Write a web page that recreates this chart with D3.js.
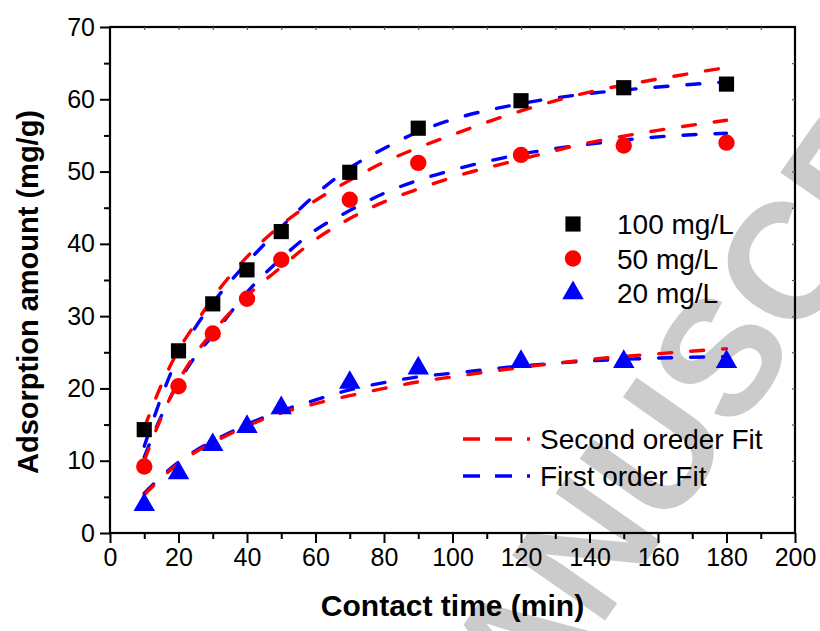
<!DOCTYPE html>
<meta charset="utf-8">
<style>
body { margin: 0; background: #fff; }
svg { font-family: "Liberation Sans", Arial, sans-serif; }
</style>
<body>
<script src="https://d3js.org/d3.v7.min.js"></script>
<script>
// measured points
var times = [10, 20, 30, 40, 50, 70, 90, 120, 150, 180]
var q100 = [14.3, 25.2, 31.7, 36.4, 41.7, 49.9, 56.0, 59.8, 61.6, 62.1]
var q50 = [9.2, 20.3, 27.6, 32.4, 37.8, 46.1, 51.2, 52.3, 53.6, 54.0]
var q20 = [3.9, 8.3, 12.2, 14.7, 17.3, 20.8, 22.8, 23.7, 23.7, 23.7]

// fitted curves
var fitT = [10, 15, 20, 25, 30, 40, 50, 60, 70, 80, 90, 100, 120, 140, 160, 180]
var second100 = [14.5, 20.5, 25.3, 29.0, 32.5, 38.2, 42.6, 46.0, 48.8, 51.3, 53.3, 55.1, 58.4, 61.0, 62.8, 64.4]
var first100 = [12.0, 18.8, 24.5, 28.5, 31.8, 37.4, 42.3, 46.8, 50.5, 53.2, 55.5, 57.2, 59.4, 60.8, 61.7, 62.4]
var second50 = [10.0, 16.0, 21.0, 24.8, 27.8, 32.8, 36.8, 40.6, 43.5, 45.8, 47.6, 49.2, 51.7, 54.0, 55.7, 57.1]
var first50 = [10.5, 16.2, 20.8, 24.5, 27.3, 33.3, 38.0, 41.9, 44.6, 47.0, 48.8, 50.2, 52.4, 53.8, 54.8, 55.3]
var second20 = [5.3, 7.6, 9.6, 11.2, 12.5, 14.8, 16.6, 17.9, 19.0, 20.0, 20.9, 21.6, 22.9, 24.0, 24.8, 25.5]
var first20 = [5.5, 7.8, 9.8, 11.4, 12.7, 15.0, 16.9, 18.4, 19.8, 20.8, 21.6, 22.1, 23.1, 23.8, 24.2, 24.4]

var xTicks = [0, 20, 40, 60, 80, 100, 120, 140, 160, 180, 200]
var yTicks = [0, 10, 20, 30, 40, 50, 60, 70]
var seriesNames = ['100 mg/L', '50 mg/L', '20 mg/L']
var fitNames = ['Second oreder Fit', 'First order Fit']

var W = 820, H = 631
var m = { left: 110, right: 795, top: 27, bottom: 533 }

var svg = d3.select('body').append('svg')
    .attr('width', W)
    .attr('height', H)

var x = d3.scaleLinear().domain([0, 200]).range([m.left, m.right])
var y = d3.scaleLinear().domain([0, 70]).range([m.bottom, m.top])

// watermark, sits under everything
svg.append('text')
    .attr('transform', 'translate(-142,1588) rotate(-55)')
    .attr('dominant-baseline', 'central')
    .attr('font-size', 165)
    .attr('font-weight', 'bold')
    .attr('fill', '#cbcbcb')
    .text('ACCEPTED MANUSCRIPT')

// frame
svg.append('rect')
    .attr('x', m.left).attr('y', m.top)
    .attr('width', m.right - m.left).attr('height', m.bottom - m.top)
    .attr('fill', 'none').attr('stroke', '#000').attr('stroke-width', 2.2)

// bottom axis
var xAxis = svg.append('g').attr('transform', 'translate(0,' + m.bottom + ')')
    .call(d3.axisBottom(x).tickValues(xTicks).tickSize(10).tickPadding(5))
xAxis.select('.domain').remove()
xAxis.selectAll('line').attr('stroke-width', 2)
xAxis.selectAll('text').attr('font-size', 25).attr('fill', '#000')
    .attr('font-family', '"Liberation Sans", Arial, sans-serif')
svg.append('g').attr('transform', 'translate(0,' + m.bottom + ')')
    .call(d3.axisBottom(x).tickValues(d3.range(10, 200, 20)).tickSize(6).tickFormat(''))
    .call(g => g.select('.domain').remove())
    .selectAll('line').attr('stroke-width', 2)

// left axis
var yAxis = svg.append('g').attr('transform', 'translate(' + m.left + ',0)')
    .call(d3.axisLeft(y).tickValues(yTicks).tickSize(10).tickPadding(5))
yAxis.select('.domain').remove()
yAxis.selectAll('line').attr('stroke-width', 2)
yAxis.selectAll('text').attr('font-size', 25).attr('fill', '#000')
    .attr('font-family', '"Liberation Sans", Arial, sans-serif')
svg.append('g').attr('transform', 'translate(' + m.left + ',0)')
    .call(d3.axisLeft(y).tickValues(d3.range(5, 70, 10)).tickSize(6).tickFormat(''))
    .call(g => g.select('.domain').remove())
    .selectAll('line').attr('stroke-width', 2)

// small inward ticks on top and right
svg.append('g').attr('transform', 'translate(0,' + m.top + ')')
    .call(d3.axisBottom(x).tickValues(d3.range(10, 200, 10)).tickSize(3).tickFormat(''))
    .call(g => g.select('.domain').remove())
    .selectAll('line').attr('stroke-width', 1.2).attr('stroke', '#555')
svg.append('g').attr('transform', 'translate(' + m.right + ',0)')
    .call(d3.axisLeft(y).tickValues(d3.range(5, 70, 5)).tickSize(3).tickFormat(''))
    .call(g => g.select('.domain').remove())
    .selectAll('line').attr('stroke-width', 1.2).attr('stroke', '#555')

// axis titles
svg.append('text')
    .attr('x', x(100)).attr('y', 616)
    .attr('text-anchor', 'middle')
    .attr('font-size', 30).attr('font-weight', 'bold')
    .text('Contact time (min)')
svg.append('text')
    .attr('transform', 'translate(38,292) rotate(-90)')
    .attr('text-anchor', 'middle')
    .attr('font-size', 29).attr('font-weight', 'bold')
    .text('Adsorption amount (mg/g)')

// fit curves
var line = d3.line()
    .x(d => x(d[0]))
    .y(d => y(d[1]))
    .curve(d3.curveMonotoneX)

var fits = [
    { v: first100, c: '#0000ff' }, { v: second100, c: '#ff0000' },
    { v: first50, c: '#0000ff' }, { v: second50, c: '#ff0000' },
    { v: first20, c: '#0000ff' }, { v: second20, c: '#ff0000' }
]
fits.forEach(function (f) {
    svg.append('path')
        .datum(fitT.map((t, i) => [t, f.v[i]]))
        .attr('d', line)
        .attr('fill', 'none')
        .attr('stroke', f.c)
        .attr('stroke-width', 3.4)
        .attr('stroke-linecap', 'round')
        .attr('stroke-dasharray', '13,19')
})

// markers
var sym = [d3.symbolSquare, d3.symbolCircle, d3.symbolTriangle]
var symSize = [230, 210, 200]
var symColor = ['#000', '#ff0000', '#0000ff']
var series = [q100, q50, q20]
series.forEach(function (vals, k) {
    svg.append('g').selectAll('path')
        .data(times.map((t, i) => [t, vals[i]]))
        .enter().append('path')
        .attr('transform', d => 'translate(' + x(d[0]) + ',' + y(d[1]) + ')')
        .attr('d', d3.symbol().type(sym[k]).size(symSize[k]))
        .attr('fill', symColor[k])
})

// legend for the points
seriesNames.forEach(function (name, k) {
    var ly = 224 + k * 34.5
    svg.append('path')
        .attr('transform', 'translate(573,' + ly + ')')
        .attr('d', d3.symbol().type(sym[k]).size(symSize[k]))
        .attr('fill', symColor[k])
    svg.append('text')
        .attr('x', 617).attr('y', ly + 10)
        .attr('font-size', 28)
        .text(name)
})

// legend for the fits
var fitColor = ['#ff0000', '#0000ff']
fitNames.forEach(function (name, k) {
    var ly = 439 + k * 37
    svg.append('line')
        .attr('x1', 463).attr('x2', 530)
        .attr('y1', ly).attr('y2', ly)
        .attr('stroke', fitColor[k])
        .attr('stroke-width', 3.6)
        .attr('stroke-dasharray', '17,15')
    svg.append('text')
        .attr('x', 540).attr('y', ly + 10)
        .attr('font-size', 28)
        .text(name)
})
</script>
</body>
